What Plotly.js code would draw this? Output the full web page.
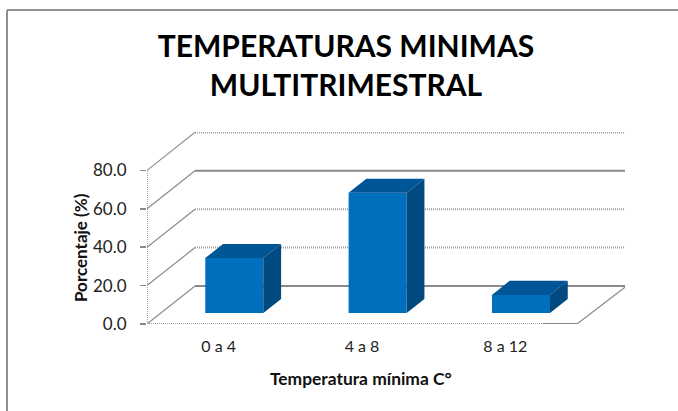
<!DOCTYPE html>
<html><head><meta charset="utf-8">
<script src="https://cdn.plot.ly/plotly-3.0.0.min.js"></script>
<style>html,body{margin:0;padding:0;background:#fff}</style></head>
<body><div id="chart" style="width:678px;height:411px"></div>
<script>
const categories = ["0 a 4", "4 a 8", "8 a 12"];
const values = [28.6, 62.6, 9.4];
const yTicks = [0, 20, 40, 60, 80];
const yTickLabels = ["0.0", "20.0", "40.0", "60.0", "80.0"];
const solidGrid = [0, 60];

// oblique projection of the depth axis, in data units
const DX = 0.335, DY = 19.8;
const BAR_W = 0.405, D0 = 0.29, D1 = 0.66;
const FRONT = "#006fbe", TOP = "#005596", SIDE = "#004a80";
const GRID = "#8a8a8a", DOT = "#a0a0a0";

const xIdx = categories.map((c, i) => i);
const xMin = -0.5, xMax = categories.length - 0.5;

function line(x0, y0, x1, y1, solid, w) {
  return {type: "line", xref: "x", yref: "y", x0, y0, x1, y1, layer: "below",
    line: {color: solid ? GRID : DOT, width: w || 2, dash: solid ? "solid" : "1px,1px"}};
}
const shapes = [];
yTicks.forEach(t => {
  const solid = solidGrid.includes(t);
  shapes.push(line(xMin + DX, t + DY, xMax + DX, t + DY, solid));
  shapes.push(line(xMin, t, xMin + DX, t + DY, true, 1.2));
});
shapes.push(line(xMax + DX, DY * 0.97, xMax, 0, true, 1.2));
shapes.push(line(xMin, 0, xMax, 0, false));
shapes.push(line(xMax - 0.24, 0, xMax, 0, true));
shapes.push(line(xMin, 0, xMin, yTicks[yTicks.length - 1], false));
// outer chart frame, paper coordinates
const px = v => (v - 147) / 478, py = v => (324 - v) / 192;
shapes.push({type: "line", xref: "paper", yref: "paper", x0: px(7), x1: px(678), y0: py(10), y1: py(10), line: {color: "#8f8f8f", width: 2}});
shapes.push({type: "line", xref: "paper", yref: "paper", x0: px(7), x1: px(7), y0: py(10), y1: py(411), line: {color: "#8f8f8f", width: 2}});

const base = D0 * DY;
const cx = xIdx.map(i => i + D0 * DX + 0.012);
const traces = [{
  type: "bar", x: cx, y: values, base: values.map(() => base), width: BAR_W,
  marker: {color: FRONT, line: {width: 0}}, hoverinfo: "skip", showlegend: false
}];
const d = D1 - D0;
values.forEach((v, i) => {
  const l = cx[i] - BAR_W / 2, r = cx[i] + BAR_W / 2, t = base + v;
  traces.push({type: "scatter", mode: "lines", fill: "toself", fillcolor: TOP, line: {width: 0, color: TOP},
    x: [l, r, r + d * DX, l + d * DX, l], y: [t, t, t + d * DY, t + d * DY, t], hoverinfo: "skip", showlegend: false});
  traces.push({type: "scatter", mode: "lines", fill: "toself", fillcolor: SIDE, line: {width: 0, color: SIDE},
    x: [r, r + d * DX, r + d * DX, r, r], y: [base, base + d * DY, t + d * DY, t, base], hoverinfo: "skip", showlegend: false});
});

const font = "Lato, 'Open Sans', sans-serif";
Plotly.newPlot("chart", traces, {
  width: 678, height: 411, paper_bgcolor: "#fff", plot_bgcolor: "rgba(0,0,0,0)",
  margin: {l: 147, r: 53, t: 132, b: 87}, showlegend: false,
  font: {family: font, color: "#111"},
  title: {text: "<b>TEMPERATURAS MINIMAS<br>MULTITRIMESTRAL</b>", font: {family: font, size: 30, color: "#000"},
    x: 346 / 678, xanchor: "center", y: 1 - 57 / 411, yanchor: "alphabetic"},
  xaxis: {range: [xMin, xMax + DX], tickmode: "array", tickvals: xIdx, ticktext: categories, showgrid: false, zeroline: false,
    showline: false, ticks: "", ticklabelstandoff: 11, tickfont: {family: font, size: 16, color: "#222"}},
  yaxis: {range: [0, 100], tickmode: "array", tickvals: yTicks, ticktext: yTickLabels, showgrid: false, zeroline: false,
    showline: false, ticks: "outside", ticklen: 6, tickcolor: GRID, tickwidth: 1.5, ticklabelstandoff: 10,
    tickfont: {family: font, size: 17, color: "#222"}},
  annotations: [
    {text: "<b>Temperatura mínima C°</b>", xref: "paper", yref: "paper", x: px(361), y: py(378), showarrow: false,
      xanchor: "center", yanchor: "middle", font: {family: font, size: 17.4, color: "#111"}},
    {text: "<b>Porcentaje (%)</b>", xref: "paper", yref: "paper", x: px(80), y: py(248), showarrow: false, textangle: -90,
      xanchor: "center", yanchor: "middle", font: {family: font, size: 17, color: "#111"}}
  ],
  shapes
}, {displayModeBar: false, staticPlot: true});
</script></body></html>
